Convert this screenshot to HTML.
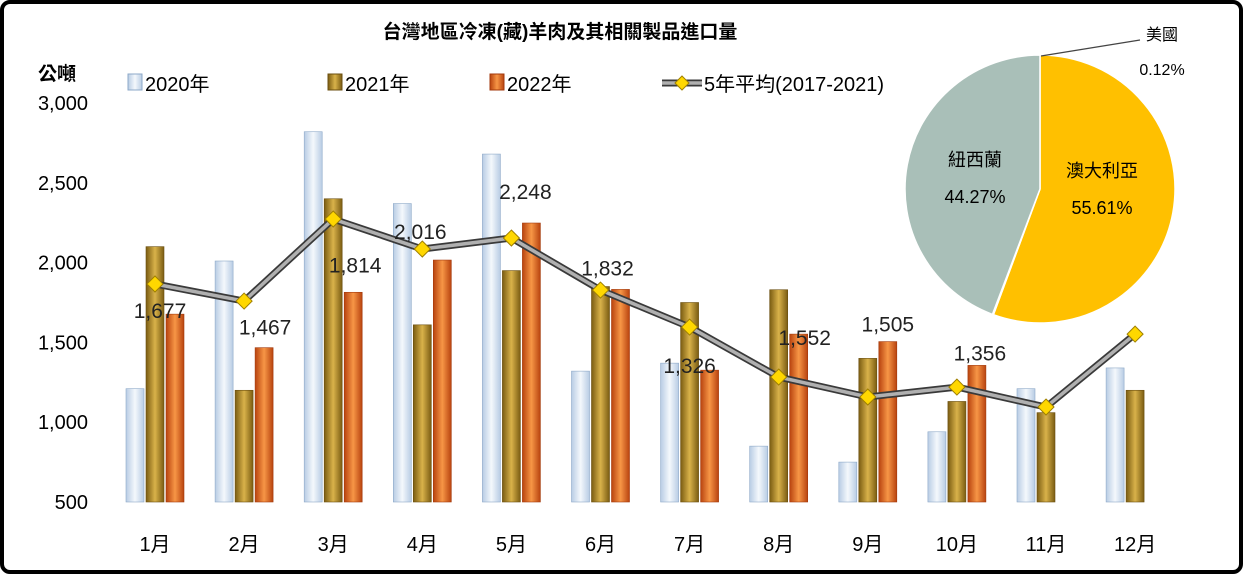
<!DOCTYPE html>
<html><head><meta charset="utf-8">
<style>
body{margin:0;background:#fff;}
#wrap{position:relative;width:1243px;height:574px;overflow:hidden;}
svg text{font-family:"Liberation Sans","Noto Sans CJK TC",sans-serif;}
</style></head>
<body>
<div id="wrap">
<svg id="chart" width="1243" height="574" xmlns="http://www.w3.org/2000/svg">
<defs>
<linearGradient id="g20" x1="0" x2="1" y1="0" y2="0"><stop offset="0" stop-color="#b8cce4"/><stop offset="0.5" stop-color="#f4f8fc"/><stop offset="1" stop-color="#b8cce4"/></linearGradient>
<linearGradient id="g21" x1="0" x2="1" y1="0" y2="0"><stop offset="0" stop-color="#7a5c12"/><stop offset="0.5" stop-color="#d9b24a"/><stop offset="1" stop-color="#7a5c12"/></linearGradient>
<linearGradient id="g22" x1="0" x2="1" y1="0" y2="0"><stop offset="0" stop-color="#b8430f"/><stop offset="0.5" stop-color="#f79646"/><stop offset="1" stop-color="#b8430f"/></linearGradient>
</defs>
<rect x="2" y="2" width="1239" height="570" rx="8" fill="#fff" stroke="#000" stroke-width="4"/>
<text x="560" y="38" text-anchor="middle" font-size="19" font-weight="bold" font-family="'Liberation Serif','Noto Serif CJK SC',serif">台灣地區冷凍(藏)羊肉及其相關製品進口量</text>
<text x="38" y="80" font-size="19" font-weight="bold">公噸</text>
<g id="axes"></g><g id="bars"></g><g id="line"></g><g id="labels"></g><g id="legend"></g><g id="pie"></g>
</svg>
</div>
<script>
const months=["1月","2月","3月","4月","5月","6月","7月","8月","9月","10月","11月","12月"];
const s2020=[1210,2010,2820,2370,2680,1320,1370,850,750,940,1210,1340];
const s2021=[2100,1200,2400,1610,1950,1850,1750,1830,1400,1130,1060,1200];
const s2022=[1677,1467,1814,2016,2248,1832,1326,1552,1505,1356,null,null];
const avg5=[1866,1759,2273,2085,2154,1828,1596,1283,1158,1220,1095,1552];
const yTicks=[500,1000,1500,2000,2500,3000];
const pieLabels=["澳大利亞","美國","紐西蘭"];
const pieValues=[55.61,0.12,44.27];

const NS="http://www.w3.org/2000/svg";
function mk(tag,attrs,parent){const e=document.createElementNS(NS,tag);for(const k in attrs)e.setAttribute(k,attrs[k]);parent.appendChild(e);return e;}
const y=v=>502-(v-500)*(399/2500);
const xc=i=>155+i*89.1;
const axes=document.getElementById('axes');
yTicks.forEach(t=>{const tx=mk('text',{x:88,y:y(t)+7,'text-anchor':'end','font-size':20},axes);tx.textContent=t.toLocaleString('en-US');

});
months.forEach((m,i)=>{const tx=mk('text',{x:xc(i),y:551,'text-anchor':'middle','font-size':20},axes);tx.textContent=m;

});
const bars=document.getElementById('bars');
const series=[[s2020,'url(#g20)','#8ea9c8',-20],[s2021,'url(#g21)','#6b4f10',0],[s2022,'url(#g22)','#a33a0c',20]];
series.forEach((s,si)=>{s[0].forEach((v,i)=>{if(v==null)return;const r=mk('rect',{x:xc(i)+s[3]-9,y:y(v),width:18,height:y(500)-y(v),fill:s[1],stroke:s[2],'stroke-width':0.6},bars);

});});
const line=document.getElementById('line');
const pts=avg5.map((v,i)=>xc(i)+','+y(v)).join(' ');
mk('polyline',{points:pts,fill:'none',stroke:'#3a3a3a','stroke-width':7,'stroke-linejoin':'round'},line);
const pl=mk('polyline',{points:pts,fill:'none',stroke:'#b0b0b0','stroke-width':3.5,'stroke-linejoin':'round'},line);


avg5.forEach((v,i)=>{const cx=xc(i),cy=y(v);const d=mk('polygon',{points:`${cx},${cy-8} ${cx+8},${cy} ${cx},${cy+8} ${cx-8},${cy}`,fill:'#ffd700',stroke:'#a08000','stroke-width':1},line);

});
const labOff=[[5,4],[21,-13],[22,-20],[-2,-21],[14,-24],[7,-14],[0,3],[26,11],[20,-10],[23,-5]];
const labels=document.getElementById('labels');
s2022.forEach((v,i)=>{if(v==null)return;const tx=mk('text',{x:xc(i)+labOff[i][0],y:y(v)+labOff[i][1],'text-anchor':'middle','font-size':21,fill:'#222'},labels);tx.textContent=v.toLocaleString('en-US');

});
const lg=document.getElementById('legend');
[['2020年','url(#g20)','#8ea9c8',128],['2021年','url(#g21)','#6b4f10',328],['2022年','url(#g22)','#a33a0c',490]].forEach(l=>{
const g=mk('g',{},lg);
mk('rect',{x:l[3],y:74,width:14,height:16,fill:l[1],stroke:l[2]},g);
const t=mk('text',{x:l[3]+17,y:91,'font-size':20},g);t.textContent=l[0];});
const lg4=mk('g',{},lg);
mk('line',{x1:662,y1:83,x2:702,y2:83,stroke:'#3a3a3a','stroke-width':7},lg4);
mk('line',{x1:662,y1:83,x2:702,y2:83,stroke:'#b0b0b0','stroke-width':3.5},lg4);
mk('polygon',{points:'682,76 689,83 682,90 675,83',fill:'#ffd700',stroke:'#a08000'},lg4);
const t4=mk('text',{x:704,y:91,'font-size':20},lg4);t4.textContent='5年平均(2017-2021)';
const pie=document.getElementById('pie');
const cx=1040,cy=189,rx=135,ry=134;const colors=['#ffc000','#4f81bd','#a9bfb8'];
let a=-Math.PI/2;const tot=pieValues.reduce((p,c)=>p+c,0);
pieValues.forEach((v,i)=>{const b=a+v/tot*2*Math.PI;const large=(b-a)>Math.PI?1:0;
const p=mk('path',{d:`M${cx},${cy} L${cx+rx*Math.cos(a)},${cy+ry*Math.sin(a)} A${rx},${ry} 0 ${large} 1 ${cx+rx*Math.cos(b)},${cy+ry*Math.sin(b)} Z`,fill:colors[i],stroke:'#fff','stroke-width':1.5},pie);

a=b;});
const aus=mk('text',{x:1102,y:177,'text-anchor':'middle','font-size':18},pie);aus.textContent=pieLabels[0];
const ausv=mk('text',{x:1102,y:214,'text-anchor':'middle','font-size':18},pie);ausv.textContent=pieValues[0].toFixed(2)+'%';
const nz=mk('text',{x:975,y:166,'text-anchor':'middle','font-size':18},pie);nz.textContent=pieLabels[2];
const nzv=mk('text',{x:975,y:203,'text-anchor':'middle','font-size':18},pie);nzv.textContent=pieValues[2].toFixed(2)+'%';
mk('line',{x1:1041,y1:56,x2:1140,y2:40,stroke:'#444','stroke-width':1.2},pie);
const us=mk('text',{x:1162,y:40,'text-anchor':'middle','font-size':16},pie);us.textContent=pieLabels[1];
const usv=mk('text',{x:1162,y:75,'text-anchor':'middle','font-size':16},pie);usv.textContent=pieValues[1].toFixed(2)+'%';
[aus,ausv,nz,nzv,us,usv].forEach(e=>{});
</script>
</body></html>
